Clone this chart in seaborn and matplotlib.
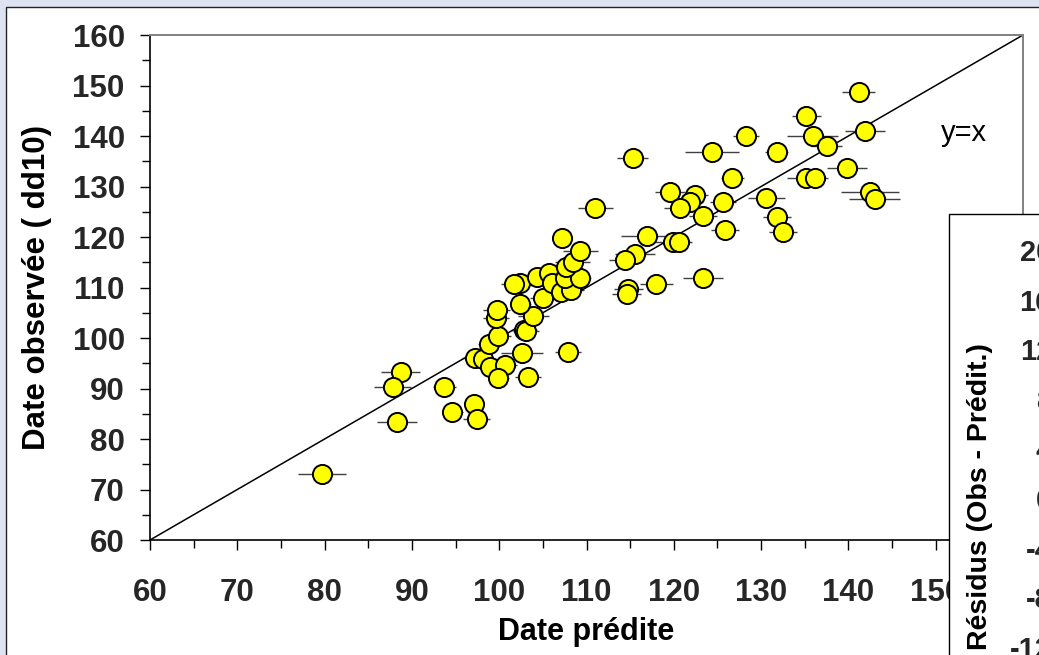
import matplotlib
matplotlib.use("Agg")
import matplotlib.pyplot as plt
from matplotlib.patches import Rectangle
from matplotlib.ticker import MultipleLocator
import seaborn as sns
import pandas as pd

# ---------------- data ----------------
pred_x = [79.7, 88.7, 87.8, 88.3, 93.7, 94.6, 97.1, 97.4,
          97.2, 98.1, 98.9, 100.7, 99.9, 98.8, 99.9, 102.8, 103.1, 99.6, 99.7, 103.9,
          102.6, 103.3, 107.9, 102.4, 105.0, 102.4, 101.7, 104.3, 105.7, 106.1, 107.1,
          108.2, 107.5, 109.3, 107.7, 108.4, 109.3, 107.2,
          111.0, 115.3, 116.9, 115.6, 114.4, 114.8, 114.6, 118.0, 119.9, 120.6, 123.3,
          119.6, 122.4, 121.9, 120.7, 125.6, 123.3, 125.9, 124.4, 128.3, 126.7, 131.8,
          130.6, 131.8, 132.5, 135.2, 135.9, 137.5, 141.2, 141.9, 139.8, 135.1, 136.2,
          142.5, 143.0]
obs_y = [73.1, 93.3, 90.2, 83.4, 90.2, 85.4, 86.9, 83.9,
         96.0, 95.8, 94.3, 94.7, 92.1, 98.8, 100.4, 101.6, 101.4, 103.9, 105.5, 104.4,
         97.0, 92.2, 97.3, 106.7, 107.9, 110.8, 110.7, 112.0, 112.8, 110.8, 109.2,
         109.5, 111.9, 111.9, 114.1, 115.1, 117.2, 119.9,
         125.8, 135.7, 120.2, 116.7, 115.4, 109.8, 108.7, 110.7, 119.1, 119.0, 111.9,
         129.0, 128.3, 127.0, 125.7, 127.0, 124.2, 121.4, 136.8, 140.0, 131.7, 136.9,
         127.8, 124.0, 120.9, 144.0, 140.0, 138.0, 148.8, 140.9, 133.6, 131.6, 131.6,
         129.0, 127.6]
err_x = [2.7, 2.2, 2.1, 2.3, 1.3, 1.2, 1.1, 1.5,
         1.5, 1.5, 1.2, 1.3, 1.2, 1.2, 1.5, 1.5, 1.5, 1.5, 1.5, 1.8,
         2.4, 1.5, 1.5, 1.2, 1.5, 1.5, 1.5, 1.8, 1.5, 1.8, 1.5,
         1.5, 1.5, 1.2, 1.5, 2.0, 2.0, 1.0,
         2.0, 1.8, 2.9, 2.3, 1.8, 1.7, 1.7, 1.9, 2.0, 1.5, 2.3,
         1.7, 1.5, 1.5, 1.8, 1.5, 1.6, 1.6, 3.1, 1.5, 1.3, 1.3,
         2.1, 1.6, 1.6, 1.7, 2.9, 1.8, 1.9, 2.3, 2.3, 2.1, 1.5,
         3.3, 2.9]

axis_ticks = [60, 70, 80, 90, 100, 110, 120, 130, 140, 150, 160]
resid_ticks = [20, 16, 12, 8, 4, 0, -4, -8, -12]

df = pd.DataFrame({"pred": pred_x, "obs": obs_y, "err": err_x})

# ---------------- style ----------------
sns.set_theme(style="white")
plt.rcParams["font.family"] = ["Liberation Sans", "DejaVu Sans"]
plt.rcParams["axes.unicode_minus"] = False

W, H = 1039, 655
fig = plt.figure(figsize=(W / 100, H / 100), dpi=100)
fig.patch.set_facecolor("#dde3f1")

# outer white slide panel
fig.patches.append(Rectangle((6 / W, -0.05), 1.1, 1 - 7 / H + 0.05,
                             transform=fig.transFigure, facecolor="white",
                             edgecolor="#222222", linewidth=1.0, zorder=-1))

# main axes
ax = fig.add_axes([150 / W, 1 - 540 / H, (1023 - 150) / W, (540 - 35) / H])
ax.set_facecolor("white")

ax.errorbar(df["pred"], df["obs"], xerr=df["err"], fmt="none",
            ecolor="#404040", elinewidth=1.0, capsize=0, zorder=2)
sns.scatterplot(data=df, x="pred", y="obs", ax=ax, color="#ffff00",
                edgecolor="black", linewidth=1.4, s=190, zorder=3, legend=False)
ax.plot([60, 160], [60, 160], color="black", linewidth=1.1, zorder=2.5, clip_on=False)
ax.text(150.6, 140.6, "y=x", fontsize=21, va="center", ha="left", color="black")

ax.set_xlim(60, 160)
ax.set_ylim(60, 160)
ax.set_xticks(axis_ticks)
ax.set_yticks(axis_ticks)
ax.xaxis.set_minor_locator(MultipleLocator(5))
ax.yaxis.set_minor_locator(MultipleLocator(5))
ax.tick_params(axis="both", which="major", direction="out", length=7.2, width=1.0,
               color="black", labelsize=22.5, bottom=True, left=True)
ax.tick_params(axis="both", which="minor", direction="out", length=5.8, width=1.0,
               color="black", bottom=True, left=True)
ax.tick_params(axis="x", which="major", pad=20)
ax.tick_params(axis="y", which="major", pad=11)
for lab in ax.get_xticklabels() + ax.get_yticklabels():
    lab.set_fontweight("bold")

for side in ["left", "bottom"]:
    ax.spines[side].set_color("black")
    ax.spines[side].set_linewidth(1.2)
for side in ["top", "right"]:
    ax.spines[side].set_color("#808080")
    ax.spines[side].set_linewidth(1.4)

ax.set_xlabel("Date prédite", fontsize=22, fontweight="bold", color="black")
ax.set_ylabel("Date observée ( dd10)", fontsize=22.5, fontweight="bold", color="black")
ax.xaxis.label.set_va("top")
ax.xaxis.set_label_coords(0.5, -0.152)
ax.yaxis.set_label_coords(-0.1128, 0.5)

# inset residual chart box (partially visible)
fig.patches.append(Rectangle((949 / W, -0.05), 0.2, (1 - 214 / H) + 0.05,
                             transform=fig.transFigure, facecolor="white",
                             edgecolor="black", linewidth=1.0, zorder=1))

ax2 = fig.add_axes([1063 / W, -45 / H, 0.2, 475 / H])
ax2.set_zorder(2)
ax2.patch.set_visible(False)
ax2.set_ylim(-12 - 53 / 12.375, 20 + 25 / 12.375)
ax2.set_yticks(resid_ticks)
ax2.set_xticks([])
ax2.tick_params(axis="y", direction="out", length=5, width=1.0, pad=3,
                labelsize=21, left=True)
for lab in ax2.get_yticklabels():
    lab.set_fontweight("bold")
for s in ax2.spines.values():
    s.set_color("black")
ax2.set_ylabel("Résidus (Obs - Prédit.)", fontsize=20.5, fontweight="bold", color="black")
ax2.yaxis.set_label_coords((993 - 1063) / (0.2 * W), (700 - 497) / 475)

fig.savefig("out.png", dpi=100, facecolor=fig.get_facecolor())
